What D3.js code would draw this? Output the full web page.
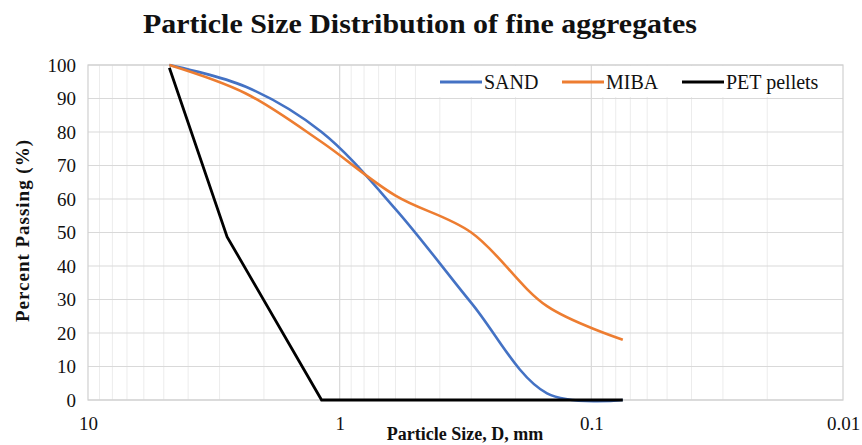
<!DOCTYPE html>
<html><head><meta charset="utf-8">
<script src="https://cdn.jsdelivr.net/npm/d3@7/dist/d3.min.js"></script>
<style>body{margin:0;background:#fff;}</style>
</head><body>
<svg id="c" width="862" height="445"></svg>
<script>
const sieves = [4.75, 2.36, 1.18, 0.6, 0.3, 0.15, 0.075];
const sand = [100, 93.5, 80, 57, 29, 2, 0];
const miba = [100, 91.5, 77, 61, 50, 28, 18];
const petSizes = [4.75, 2.8, 1.18, 0.6, 0.3, 0.15, 0.075];
const pet = [99.2, 48.7, 0, 0, 0, 0, 0];
const yTicks = [0,10,20,30,40,50,60,70,80,90,100];
const xTicks = [10, 1, 0.1, 0.01];
const seriesNames = ["SAND", "MIBA", "PET pellets"];
const colors = ["#4472C4", "#ED7D31", "#000000"];

const svg = d3.select("#c");
const L = 88, R = 843, T = 65, B = 400;
const x = d3.scaleLog().domain([10, 0.01]).range([L, R]);
const y = d3.scaleLinear().domain([0, 100]).range([B, T]);

const minor = [];
[10, 1, 0.1].forEach(d => { for (let k = 2; k <= 9; k++) minor.push(d * k / 10); });
svg.append("g").selectAll("line").data(minor).join("line")
  .attr("x1", d => x(d)).attr("x2", d => x(d)).attr("y1", T).attr("y2", B)
  .attr("stroke", "#ececec").attr("stroke-width", 1);
svg.append("g").selectAll("line").data(yTicks).join("line")
  .attr("x1", L).attr("x2", R).attr("y1", d => y(d)).attr("y2", d => y(d))
  .attr("stroke", "#d9d9d9").attr("stroke-width", 1.2);

svg.append("rect").attr("x", 432).attr("y", 66).attr("width", 410).attr("height", 31).attr("fill", "#fff");

svg.append("g").selectAll("line").data([1, 0.1]).join("line")
  .attr("x1", d => x(d)).attr("x2", d => x(d)).attr("y1", T).attr("y2", B)
  .attr("stroke", "#d9d9d9").attr("stroke-width", 1.2);
svg.append("rect").attr("x", L).attr("y", T).attr("width", R - L).attr("height", B - T)
  .attr("fill", "none").attr("stroke", "#d0d0d0").attr("stroke-width", 1.2);

const serif = "'Liberation Serif', serif";
const yAxis = d3.axisLeft(y).tickValues(yTicks).tickSize(0).tickPadding(12);
const gy = svg.append("g").attr("transform", `translate(${L},0)`).call(yAxis);
gy.attr("font-family", null).attr("font-size", null);
gy.select(".domain").remove();
gy.selectAll("text").style("font-family", serif).style("font-size", "19px").attr("fill", "#111");

const xAxis = d3.axisBottom(x).tickValues(xTicks).tickFormat(d => String(d)).tickSize(0).tickPadding(17);
const gx = svg.append("g").attr("transform", `translate(0,${B})`).call(xAxis);
gx.attr("font-family", null).attr("font-size", null);
gx.select(".domain").remove();
gx.selectAll("text").style("font-family", serif).style("font-size", "19px").attr("fill", "#111");

const smooth = d3.line().x(d => x(d[0])).y(d => y(d[1])).curve(d3.curveCatmullRom.alpha(0.5));
const straight = d3.line().x(d => x(d[0])).y(d => y(d[1]));
svg.append("path").datum(sieves.map((s, i) => [s, sand[i]])).attr("d", smooth)
  .attr("fill", "none").attr("stroke", colors[0]).attr("stroke-width", 2.6);
svg.append("path").datum(sieves.map((s, i) => [s, miba[i]])).attr("d", smooth)
  .attr("fill", "none").attr("stroke", colors[1]).attr("stroke-width", 2.6);
svg.append("path").datum(petSizes.map((s, i) => [s, pet[i]])).attr("d", straight)
  .attr("fill", "none").attr("stroke", colors[2]).attr("stroke-width", 2.8);

const legX = [440, 562, 682];
const lg = svg.append("g");
seriesNames.forEach((n, i) => {
  lg.append("line").attr("x1", legX[i]).attr("x2", legX[i] + 42).attr("y1", 82).attr("y2", 82)
    .attr("stroke", colors[i]).attr("stroke-width", 2.8);
  lg.append("text").attr("x", legX[i] + 44).attr("y", 89).style("font-family", serif).style("font-size", "20px").attr("fill", "#111").text(n);
});

svg.append("text").attr("x", 420).attr("y", 33).attr("text-anchor", "middle")
  .style("font-family", serif).style("font-size", "28px").attr("font-weight", "bold").attr("fill", "#111")
  .attr("textLength", 554).attr("lengthAdjust", "spacingAndGlyphs")
  .text("Particle Size Distribution of fine aggregates");
svg.append("text").attr("x", 465).attr("y", 440).attr("text-anchor", "middle")
  .style("font-family", serif).style("font-size", "18px").attr("font-weight", "bold").attr("fill", "#111")
  .text("Particle Size, D, mm");
svg.append("text").attr("transform", "translate(29,231) rotate(-90)").attr("text-anchor", "middle")
  .style("font-family", serif).style("font-size", "19px").attr("font-weight", "bold").attr("fill", "#111")
  .attr("textLength", 182).attr("lengthAdjust", "spacing")
  .text("Percent  Passing (%)");
</script>
</body></html>
